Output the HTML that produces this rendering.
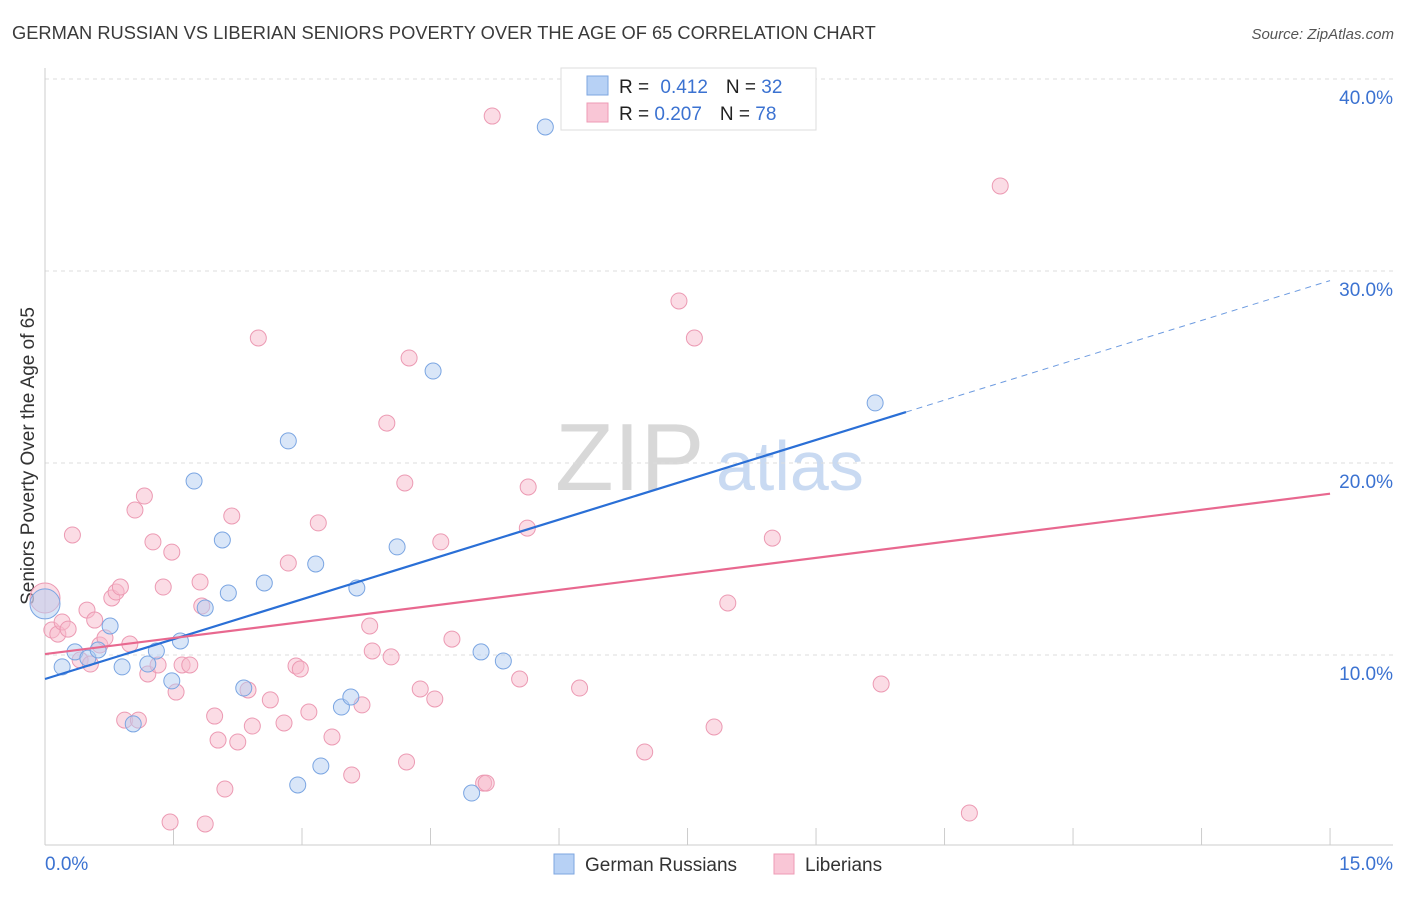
<!DOCTYPE html>
<html><head><meta charset="utf-8"><style>
body{margin:0;background:#fff;font-family:"Liberation Sans",sans-serif;}
svg text{font-family:"Liberation Sans",sans-serif;}
</style></head><body>
<svg id="chart" width="1406" height="892">
<text x="12" y="39" font-size="18.3" fill="#3a3a3a">GERMAN RUSSIAN VS LIBERIAN SENIORS POVERTY OVER THE AGE OF 65 CORRELATION CHART</text>
<text x="1394" y="39" font-size="15" font-style="italic" fill="#555" text-anchor="end">Source: ZipAtlas.com</text>
<text x="555" y="490" font-size="96" fill="#d8d8d8" font-family="Liberation Serif">ZIP</text>
<text x="716" y="490" font-size="70" fill="#c9daf2">atlas</text>
<text transform="translate(34,456) rotate(-90)" font-size="19" fill="#333" text-anchor="middle">Seniors Poverty Over the Age of 65</text>
<g id="grid"></g><g id="marks"></g>
<g>
<rect x="561" y="68" width="255" height="62" fill="#fff" stroke="#ddd"/>
<rect x="587" y="76" width="21" height="19" fill="#b7d1f5" stroke="#7ea6e0"/>
<rect x="587" y="103" width="21" height="19" fill="#f9c6d6" stroke="#ee9bb5"/>
<text x="619" y="93" font-size="19" fill="#222">R = <tspan fill="#3b72d1" dx="6">0.412</tspan><tspan dx="18" fill="#222">N = </tspan><tspan fill="#3b72d1">32</tspan></text>
<text x="619" y="120" font-size="19" fill="#222">R = <tspan fill="#3b72d1">0.207</tspan><tspan dx="18" fill="#222">N = </tspan><tspan fill="#3b72d1">78</tspan></text>
</g>
<g>
<rect x="554" y="854" width="20" height="20" fill="#b7d1f5" stroke="#7ea6e0"/>
<text x="585" y="871" font-size="19" fill="#333">German Russians</text>
<rect x="774" y="854" width="20" height="20" fill="#f9c6d6" stroke="#ee9bb5"/>
<text x="805" y="871" font-size="19" fill="#333">Liberians</text>
</g>
</svg>
<script>
const yTicks=[10,20,30,40];
const yTickLabels=["10.0%","20.0%","30.0%","40.0%"];
const xTickVals=[0,1.5,3,4.5,6,7.5,9,10.5,12,13.5,15];
const blueX=[0.00,0.20,0.35,0.50,0.62,0.76,0.90,1.03,1.20,1.30,1.48,1.58,1.74,1.87,2.07,2.14,2.32,2.56,2.84,2.95,3.16,3.22,3.46,3.57,3.64,4.11,4.53,4.98,5.09,5.35,5.84,9.69];
const blueY=[12.66,9.38,10.16,9.84,10.26,11.51,9.38,6.41,9.53,10.21,8.65,10.73,19.06,12.45,15.99,13.23,8.28,13.75,21.15,3.23,14.74,4.22,7.29,7.81,13.49,15.63,24.79,2.81,10.16,9.69,37.50,23.13];
const pinkX=[0.00,0.08,0.15,0.20,0.27,0.32,0.41,0.49,0.53,0.58,0.64,0.70,0.78,0.83,0.88,0.93,0.99,1.05,1.09,1.16,1.20,1.26,1.32,1.38,1.46,1.48,1.53,1.60,1.69,1.81,1.83,1.87,1.98,2.02,2.10,2.18,2.25,2.37,2.42,2.49,2.63,2.79,2.84,2.93,2.98,3.08,3.19,3.35,3.58,3.70,3.79,3.82,3.99,4.04,4.20,4.22,4.25,4.38,4.55,4.62,4.75,5.12,5.15,5.22,5.54,5.64,5.63,6.24,7.00,7.40,7.58,7.81,7.97,8.49,9.76,10.79,11.15];
const pinkY=[12.97,11.30,11.09,11.72,11.35,16.25,9.74,12.34,9.53,11.82,10.52,10.89,12.97,13.28,13.54,6.61,10.57,17.55,6.61,18.28,9.01,15.89,9.48,13.54,1.30,15.36,8.07,9.48,9.48,13.80,12.55,1.20,6.82,5.57,3.02,17.24,5.47,8.18,6.30,26.51,7.66,6.46,14.79,9.43,9.27,7.03,16.88,5.73,3.75,7.40,11.51,10.21,22.08,9.90,18.96,4.43,25.47,8.23,7.71,15.89,10.83,3.33,3.33,38.07,8.75,18.75,16.61,8.28,4.95,28.44,26.51,6.25,12.71,16.09,8.49,1.77,34.43];
const blueLine=[8.75,29.5], blueSolidEnd=10.05;
const pinkLine=[10.05,18.4];
const NS="http://www.w3.org/2000/svg";
const X=v=>45+v*85.67, Y=v=>847-v*19.2;
function mk(t,a,p){const e=document.createElementNS(NS,t);for(const k in a)e.setAttribute(k,a[k]);p.appendChild(e);return e;}
const g=document.getElementById('grid'), m=document.getElementById('marks');
yTicks.forEach((v,i)=>{
 const l=mk('line',{x1:45,x2:1393,y1:Y(v),y2:Y(v),stroke:'#ddd','stroke-dasharray':'4,4'},g);
 
 
 const t=mk('text',{x:1393,y:Y(v)+25,'font-size':19,fill:'#3b72d1','text-anchor':'end'},g);
 t.textContent=yTickLabels[i];
 
 
});
mk('line',{x1:45,x2:45,y1:68,y2:845,stroke:'#ccc'},g);
mk('line',{x1:45,x2:1393,y1:845,y2:845,stroke:'#ccc'},g);
xTickVals.forEach(v=>{const t=mk('line',{x1:X(v),x2:X(v),y1:828,y2:845,stroke:'#ccc'},g);
 
 });
const x0=mk('text',{x:45,y:870,'font-size':19,fill:'#3b72d1'},g);x0.textContent='0.0%';


const x1=mk('text',{x:1393,y:870,'font-size':19,fill:'#3b72d1','text-anchor':'end'},g);x1.textContent='15.0%';


function pts(xs,ys,fill,stroke,name){xs.forEach((x,i)=>{const c=mk('circle',{cx:X(x),cy:Y(ys[i]),r:i===0?15:8,fill:fill,stroke:stroke,'stroke-width':1,'fill-opacity':0.5},m);
 
 });}
pts(pinkX,pinkY,'#f7b9cc','#ec9ab3','liberian-point');
pts(blueX,blueY,'#b3cdf2','#7aa5e2','german-russian-point');
const slope=(blueLine[1]-blueLine[0])/15;
const bl=mk('line',{x1:X(0),y1:Y(blueLine[0]),x2:X(blueSolidEnd),y2:Y(blueLine[0]+slope*blueSolidEnd),stroke:'#2a6fd6','stroke-width':2.2},m);


const bd=mk('line',{x1:X(blueSolidEnd),y1:Y(blueLine[0]+slope*blueSolidEnd),x2:X(15),y2:Y(blueLine[1]),stroke:'#6d9be0','stroke-width':1,'stroke-dasharray':'6,5'},m);


const pl=mk('line',{x1:X(0),y1:Y(pinkLine[0]),x2:X(15),y2:Y(pinkLine[1]),stroke:'#e8688f','stroke-width':2.2},m);


</script>
</body></html>
